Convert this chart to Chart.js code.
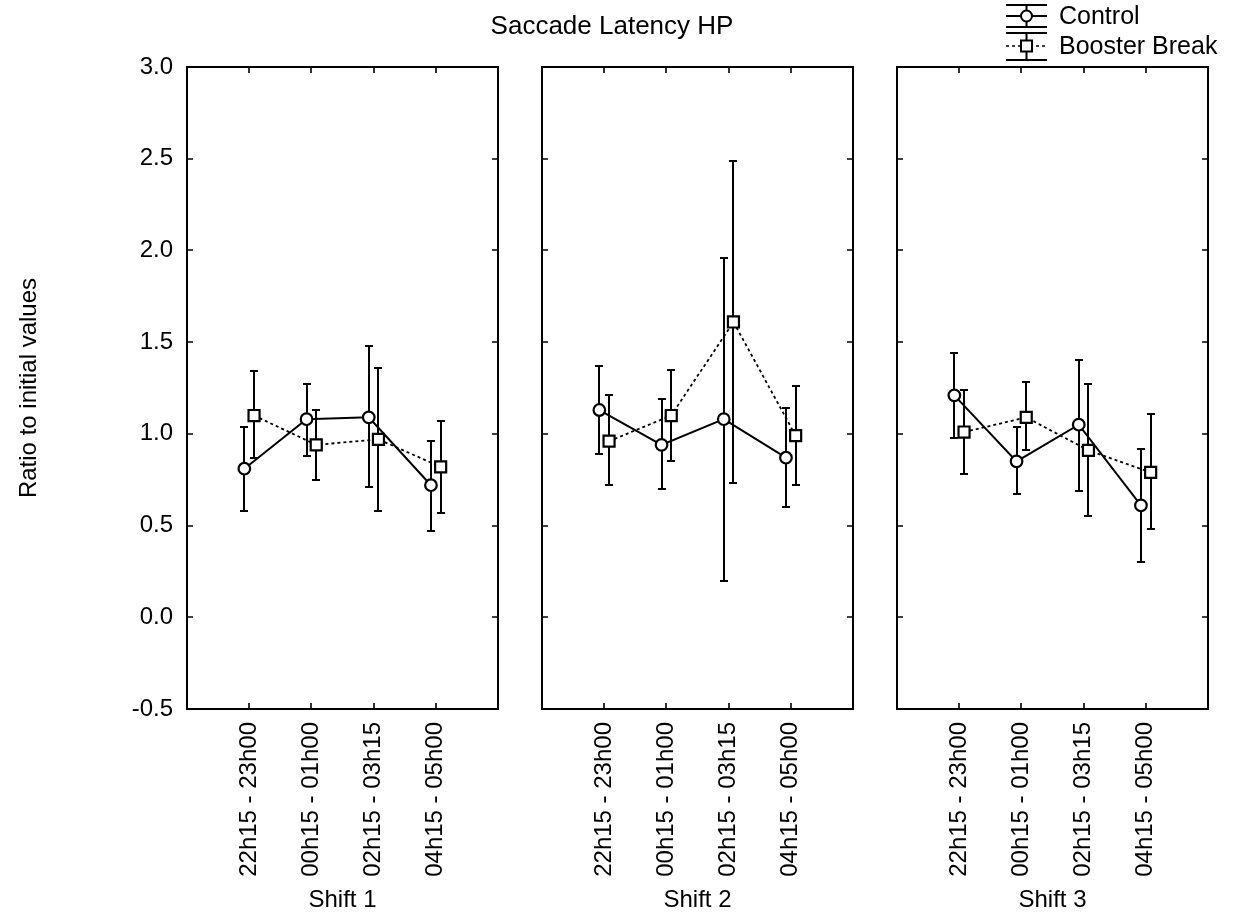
<!DOCTYPE html>
<html>
<head>
<meta charset="utf-8">
<title>Saccade Latency HP</title>
<script src="https://cdn.jsdelivr.net/npm/chart.js@4.4.0/dist/chart.umd.min.js"></script>
<style>
   body { margin: 0; background: #fff; }
   #wrap { position: relative; width: 1237px; height: 917px; }
   #wrap canvas { position: absolute; left: 0; top: 0; }
</style>
</head>
<body>
<div id="wrap">
   <canvas id="shift1" width="1237" height="917"></canvas>
   <canvas id="shift2" width="1237" height="917"></canvas>
   <canvas id="shift3" width="1237" height="917"></canvas>
</div>
<script>
"use strict";

// data
const categories = ["22h15 - 23h00", "00h15 - 01h00", "02h15 - 03h15", "04h15 - 05h00"];
const shifts = ["Shift 1", "Shift 2", "Shift 3"];
const yTickValues = [-0.5, 0, 0.5, 1, 1.5, 2, 2.5, 3];

// one row per shift
const controlMean = [
   [0.81, 1.08, 1.09, 0.72],
   [1.13, 0.94, 1.08, 0.87],
   [1.21, 0.85, 1.05, 0.61],
];
const controlUpper = [
   [1.04, 1.27, 1.48, 0.96],
   [1.37, 1.19, 1.96, 1.14],
   [1.44, 1.04, 1.40, 0.92],
];
const controlLower = [
   [0.58, 0.88, 0.71, 0.47],
   [0.89, 0.70, 0.20, 0.60],
   [0.98, 0.67, 0.69, 0.30],
];
const boosterMean = [
   [1.10, 0.94, 0.97, 0.82],
   [0.96, 1.10, 1.61, 0.99],
   [1.01, 1.09, 0.91, 0.79],
];
const boosterUpper = [
   [1.34, 1.13, 1.36, 1.07],
   [1.21, 1.35, 2.49, 1.26],
   [1.24, 1.28, 1.27, 1.11],
];
const boosterLower = [
   [0.87, 0.75, 0.58, 0.57],
   [0.72, 0.85, 0.73, 0.72],
   [0.78, 0.91, 0.55, 0.48],
];

// layout
const fontFamily = '"Liberation Sans", Arial, Helvetica, sans-serif';
const panelLeft = [187, 542, 897];
const panelWidth = 311;
const panelTop = 67;
const panelBottom = 709;
const sideOffset = 0.078; // control left, booster right of the category

const errorBars = {
   id: "errorBars",
   beforeDatasetsDraw(chart) {
      const { ctx } = chart;
      const x = chart.scales.x;
      const y = chart.scales.y;
      ctx.save();
      ctx.strokeStyle = "#000";
      ctx.lineWidth = 2;
      chart.data.datasets.forEach((ds) => {
         ds.data.forEach((pt, i) => {
            const px = Math.round(x.getPixelForValue(pt.x));
            const top = Math.round(y.getPixelForValue(ds.upper[i]));
            const bot = Math.round(y.getPixelForValue(ds.lower[i]));
            ctx.beginPath();
            ctx.moveTo(px, top);
            ctx.lineTo(px, bot);
            ctx.moveTo(px - 4, top);
            ctx.lineTo(px + 4, top);
            ctx.moveTo(px - 4, bot);
            ctx.lineTo(px + 4, bot);
            ctx.stroke();
         });
      });
      ctx.restore();
   },
};

const panelFrame = {
   id: "panelFrame",
   afterDraw(chart) {
      const { ctx, chartArea: a } = chart;
      const x = chart.scales.x;
      const y = chart.scales.y;
      const t = 6;
      ctx.save();
      ctx.strokeStyle = "#000";
      ctx.lineWidth = 2;
      ctx.strokeRect(a.left, a.top, a.right - a.left, a.bottom - a.top);
      ctx.lineWidth = 1.6;
      ctx.beginPath();
      yTickValues.forEach((v) => {
         const py = Math.round(y.getPixelForValue(v));
         ctx.moveTo(a.left, py);
         ctx.lineTo(a.left + t, py);
         ctx.moveTo(a.right, py);
         ctx.lineTo(a.right - t, py);
      });
      categories.forEach((c, i) => {
         const px = Math.round(x.getPixelForValue(i));
         ctx.moveTo(px, a.top);
         ctx.lineTo(px, a.top + t);
         ctx.moveTo(px, a.bottom);
         ctx.lineTo(px, a.bottom - t);
      });
      ctx.stroke();
      ctx.restore();
   },
};

// figure title and legend, drawn once on the last panel
const figureText = {
   id: "figureText",
   afterDraw(chart) {
      if (chart.canvas.id !== "shift3") return;
      const { ctx } = chart;
      ctx.save();
      ctx.fillStyle = "#000";
      ctx.textBaseline = "middle";
      ctx.textAlign = "center";
      ctx.font = "26px " + fontFamily;
      ctx.fillText("Saccade Latency HP", 612, 27);

      ctx.textAlign = "left";
      ctx.font = "25px " + fontFamily;
      ctx.fillText("Control", 1059, 17);
      ctx.fillText("Booster Break", 1059, 47);

      const x0 = 1006, x1 = 1047, cx = 1026.5;
      ctx.strokeStyle = "#000";
      ctx.lineWidth = 2;
      // control symbol
      ctx.beginPath();
      ctx.moveTo(x0, 5); ctx.lineTo(x1, 5);
      ctx.moveTo(x0, 27); ctx.lineTo(x1, 27);
      ctx.moveTo(cx, 5); ctx.lineTo(cx, 27);
      ctx.moveTo(x0, 16); ctx.lineTo(x1, 16);
      ctx.stroke();
      ctx.beginPath();
      ctx.arc(cx, 16, 5.5, 0, Math.PI * 2);
      ctx.fillStyle = "#fff";
      ctx.fill();
      ctx.stroke();
      // booster symbol
      ctx.beginPath();
      ctx.moveTo(x0, 33); ctx.lineTo(x1, 33);
      ctx.moveTo(x0, 60); ctx.lineTo(x1, 60);
      ctx.moveTo(cx, 33); ctx.lineTo(cx, 60);
      ctx.stroke();
      ctx.setLineDash([3, 3]);
      ctx.lineWidth = 1.7;
      ctx.beginPath();
      ctx.moveTo(x0, 46); ctx.lineTo(x1, 46);
      ctx.stroke();
      ctx.setLineDash([]);
      ctx.lineWidth = 2;
      ctx.fillRect(cx - 5.5, 40.5, 11, 11);
      ctx.strokeRect(cx - 5.5, 40.5, 11, 11);
      ctx.restore();
   },
};

const makePanel = function (p) {
   const first = p === 0;
   const left = panelLeft[p];
   return new Chart(document.getElementById("shift" + (p + 1)), {
      type: "line",
      data: {
         datasets: [
            {
               label: "Control",
               data: controlMean[p].map((v, i) => ({ x: i - sideOffset, y: v })),
               upper: controlUpper[p],
               lower: controlLower[p],
               borderColor: "#000",
               borderWidth: 2,
               pointStyle: "circle",
               pointRadius: 5.8,
               pointBorderWidth: 2.2,
               pointBackgroundColor: "#fff",
               pointBorderColor: "#000",
            },
            {
               label: "Booster Break",
               data: boosterMean[p].map((v, i) => ({ x: i + sideOffset, y: v })),
               upper: boosterUpper[p],
               lower: boosterLower[p],
               borderColor: "#000",
               borderWidth: 1.8,
               borderDash: [3, 3],
               pointStyle: "rect",
               pointRadius: 7.8,
               pointBorderWidth: 2.2,
               pointBackgroundColor: "#fff",
               pointBorderColor: "#000",
            },
         ],
      },
      options: {
         responsive: false,
         animation: false,
         devicePixelRatio: 1,
         layout: {
            padding: {
               left: 0,
               right: 1237 - left - panelWidth,
               top: panelTop,
               bottom: 0,
            },
         },
         plugins: {
            legend: { display: false },
            title: { display: false },
            tooltip: { enabled: false },
            errorBars: {},
         },
         scales: {
            x: {
               type: "linear",
               min: -1,
               max: 4,
               grid: { display: false, drawTicks: false },
               border: { display: false },
               afterBuildTicks: (s) => {
                  s.ticks = categories.map((c, i) => ({ value: i }));
               },
               afterFit: (s) => {
                  s.height = 917 - panelBottom;
               },
               ticks: {
                  autoSkip: false,
                  minRotation: 90,
                  maxRotation: 90,
                  padding: 13,
                  color: "#000",
                  font: { family: fontFamily, size: 24 },
                  callback: (v) => categories[v],
               },
               title: {
                  display: true,
                  text: shifts[p],
                  color: "#000",
                  font: { family: fontFamily, size: 24 },
                  padding: { top: 0, bottom: 2 },
               },
            },
            y: {
               min: -0.5,
               max: 3,
               grid: { display: false, drawTicks: false },
               border: { display: false },
               afterBuildTicks: (s) => {
                  s.ticks = yTickValues.map((v) => ({ value: v }));
               },
               afterFit: (s) => {
                  s.width = left;
               },
               ticks: {
                  display: first,
                  padding: 14,
                  color: "#000",
                  font: { family: fontFamily, size: 24 },
                  callback: (v) => v.toFixed(1),
               },
               title: {
                  display: first,
                  text: "Ratio to initial values",
                  color: "#000",
                  font: { family: fontFamily, size: 24 },
                  padding: { top: 15, bottom: 0 },
               },
            },
         },
      },
      plugins: [errorBars, panelFrame, figureText],
   });
};

shifts.forEach((s, p) => makePanel(p));
</script>
</body>
</html>
